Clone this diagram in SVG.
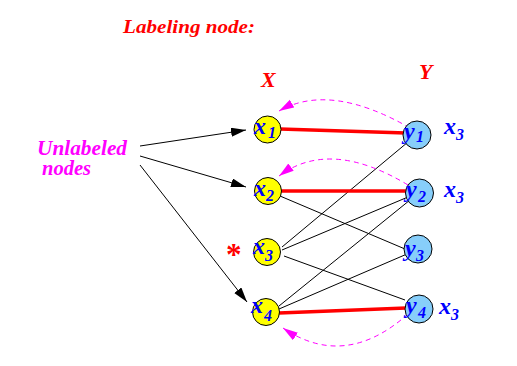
<svg xmlns="http://www.w3.org/2000/svg" width="517" height="366" viewBox="0 0 517 366">
<defs>
<marker id="ah" markerUnits="userSpaceOnUse" markerWidth="16" markerHeight="10" refX="15" refY="4.5" orient="auto"><path d="M0,0 L15,4.5 L0,9 z" fill="#000"/></marker>
<marker id="mh" markerUnits="userSpaceOnUse" markerWidth="16" markerHeight="10" refX="15" refY="4.5" orient="auto"><path d="M0,0 L15,4.5 L0,9 z" fill="#ff00ff"/></marker>
</defs>
<style>
text{font-family:"Liberation Serif","Times New Roman",serif;font-weight:bold;font-style:italic}
.t{font-size:19px;fill:#ff0000}
.big{font-size:22px}
.m{font-size:20px;fill:#ff00ff}
.lbl{font-size:24px;fill:#0000ff}
.sub{font-size:16px}
.xn{fill:#ffff00;stroke:#000;stroke-width:1}
.yn{fill:#87cefa;stroke:#000;stroke-width:1}
.e{stroke:#000;stroke-width:1;fill:none}
.r{stroke:#ff0000;stroke-width:3.5;fill:none}
.d{stroke:#ff00ff;stroke-width:1;stroke-dasharray:5,4;fill:none}
</style>
<g id="titles">
<text class="t" x="123" y="33" textLength="132" lengthAdjust="spacingAndGlyphs">Labeling node:</text>
<text class="t big" x="261" y="87">X</text>
<text class="t big" x="419" y="79">Y</text>
<text class="m" x="37" y="155" textLength="90" lengthAdjust="spacingAndGlyphs">Unlabeled</text>
<text class="m" x="42" y="175" textLength="49" lengthAdjust="spacingAndGlyphs">nodes</text>
<text x="226" y="265" style="font-size:31px;fill:#ff0000;font-style:normal">*</text>
</g>
<g id="connectors">
<line class="e" x1="140" y1="146" x2="246" y2="130" marker-end="url(#ah)"/>
<line class="e" x1="140" y1="156" x2="246" y2="187" marker-end="url(#ah)"/>
<line class="e" x1="140" y1="165" x2="247" y2="302" marker-end="url(#ah)"/>
<line class="e" x1="280" y1="196" x2="405" y2="249"/>
<line class="e" x1="282" y1="247" x2="408" y2="142"/>
<line class="e" x1="282" y1="250" x2="408" y2="197"/>
<line class="e" x1="284" y1="256" x2="405" y2="300"/>
<line class="e" x1="279" y1="306" x2="410" y2="200"/>
<line class="e" x1="279" y1="309" x2="407" y2="254"/>
<path class="r" d="M280,129 L406,133"/>
<path class="r" d="M280,191 L406,191"/>
<path class="r" d="M279,313 L406,308"/>
<path class="d" d="M410,128 Q330,82 279,111" marker-end="url(#mh)"/>
<path class="d" d="M408,185 Q330,138 279,176" marker-end="url(#mh)"/>
<path class="d" d="M408,314 Q345,370 283,328" marker-end="url(#mh)"/>
</g>
<g id="x1"><circle class="xn" cx="267.5" cy="129.5" r="13.5"/><text class="lbl" x="254" y="134">x<tspan class="sub" x="268" y="138">1</tspan></text></g>
<g id="x2"><circle class="xn" cx="268" cy="191" r="13.5"/><text class="lbl" x="254" y="196">x<tspan class="sub" x="266" y="201">2</tspan></text></g>
<g id="x3"><circle class="xn" cx="267" cy="252" r="13.5"/><text class="lbl" x="253" y="254">x<tspan class="sub" x="265" y="261">3</tspan></text></g>
<g id="x4"><circle class="xn" cx="266" cy="312" r="13.5"/><text class="lbl" x="251" y="313">x<tspan class="sub" x="264" y="321">4</tspan></text></g>
<g id="y1"><circle class="yn" cx="417" cy="135" r="14"/><text class="lbl" x="404" y="139">y<tspan class="sub" x="416" y="142">1</tspan></text></g>
<g id="y2"><circle class="yn" cx="419.5" cy="193" r="14"/><text class="lbl" x="406" y="197">y<tspan class="sub" x="418" y="202">2</tspan></text></g>
<g id="y3"><circle class="yn" cx="418" cy="249" r="14"/><text class="lbl" x="405" y="256">y<tspan class="sub" x="416" y="261">3</tspan></text></g>
<g id="y4"><circle class="yn" cx="419" cy="309" r="14"/><text class="lbl" x="406" y="313">y<tspan class="sub" x="418" y="318">4</tspan></text></g>
<g id="labels">
<text class="lbl" x="444" y="134">x<tspan class="sub" x="456" y="140">3</tspan></text>
<text class="lbl" x="444" y="197">x<tspan class="sub" x="456" y="203">3</tspan></text>
<text class="lbl" x="439" y="314">x<tspan class="sub" x="451" y="320">3</tspan></text>
</g>
</svg>
